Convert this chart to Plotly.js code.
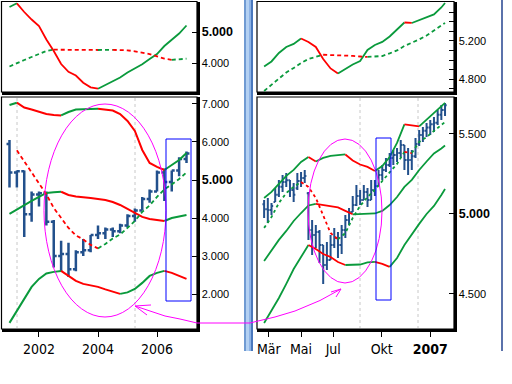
<!DOCTYPE html>
<html><head><meta charset="utf-8">
<script src="https://cdn.plot.ly/plotly-3.0.1.min.js"></script>
<style>html,body{margin:0;padding:0;background:#fff}#chart{width:512px;height:384px}</style>
</head><body><div id="chart"></div>
<script>
// ---------- LEFT PANEL (quarterly) ----------
const leftQuarters = [2001,2001.25,2001.5,2001.75,2002,2002.25,2002.5,2002.75,2003,2003.25,2003.5,2003.75,2004,2004.25,2004.5,2004.75,2005,2005.25,2005.5,2005.75,2006,2006.25,2006.5,2006.75,2007];
const leftOpen  = [5950,5200,5230,4100,4620,4650,3900,3000,3050,2650,3100,3150,3550,3600,3700,3650,3800,4050,4200,4500,4700,5200,4950,5250,5550];
const leftHigh  = [6050,5250,5250,4700,4700,4700,3950,3400,3350,3150,3450,3550,3800,3750,3750,3850,4100,4250,4550,4750,5250,5300,5250,5600,5750];
const leftLow   = [4800,4800,3500,3900,4300,3800,2700,2600,2450,2600,3000,3100,3450,3450,3500,3600,3750,3900,4200,4400,4700,4450,4700,5100,5450];
const leftClose = [5200,5230,4100,4620,4650,3900,3000,3050,2650,3100,3150,3550,3600,3700,3650,3800,4050,4200,4500,4700,5200,4950,5250,5550,5700];
const leftUpper  = [6974,7034,6908,6855,6790,6737,6711,6700,6790,6855,6868,6870,6874,6855,6829,6737,6553,6290,5790,5448,5343,5264,5395,5527,5711];
const leftMiddle = [4107,4225,4343,4448,4554,4659,4680,4690,4606,4567,4554,4528,4501,4475,4422,4343,4238,4133,4028,3975,3948,3922,4001,4040,4080];
const leftLower  = [1240,1556,1898,2187,2398,2542,2582,2608,2476,2345,2266,2227,2187,2121,2069,2003,2042,2134,2292,2476,2555,2608,2555,2476,2398];
const leftTrend  = [null,5780,5488,5201,4909,4620,4265,3988,3739,3541,3436,3292,3200,3317,3462,3567,3739,3923,4160,4330,4554,4751,4883,5027,5198];
const leftTopSolid  = [5806,5926,5645,5403,5194,4758,4387,3968,3716,3597,3364,3216,3171,3290,3403,3532,3694,3829,3961,4129,4290,4548,4742,4952,5210];
const leftTopDashed = [3887,4000,4097,4194,4281,4387,4430,4428,4426,4425,4424,4423,4420,4422,4424,4418,4410,4377,4339,4290,4216,4142,4103,4113,4139];
const leftTickVals = [2002,2004,2006];
const leftTickText = ['2002','2004','2006'];

// ---------- RIGHT PANEL (weekly) ----------
const rightWeeks = ['2006-02-20','2006-02-27','2006-03-06','2006-03-13','2006-03-20','2006-03-27','2006-04-03','2006-04-10','2006-04-17','2006-04-24',
 '2006-05-01','2006-05-08','2006-05-15','2006-05-22','2006-05-29','2006-06-05','2006-06-12','2006-06-19','2006-06-26','2006-07-03',
 '2006-07-10','2006-07-17','2006-07-24','2006-07-31','2006-08-07','2006-08-14','2006-08-21','2006-08-28','2006-09-04','2006-09-11',
 '2006-09-18','2006-09-25','2006-10-02','2006-10-09','2006-10-16','2006-10-23','2006-10-30','2006-11-06','2006-11-13','2006-11-20',
 '2006-11-27','2006-12-04','2006-12-11','2006-12-18','2006-12-25','2007-01-01','2007-01-08','2007-01-15','2007-01-22','2007-01-29'];
const rightOpen  = [5060,5030,5025,5075,5120,5170,5200,5210,5150,5160,5206,5225,5130,4900,4869,4888,4806,4681,4713,4806,4850,4806,4900,4963,5013,5056,5113,5088,5138,5088,5150,5175,5244,5275,5306,5350,5369,5381,5431,5338,5338,5360,5438,5494,5520,5541,5560,5570,5620,5650];
const rightHigh  = [5088,5100,5069,5163,5213,5244,5256,5213,5194,5256,5263,5275,5138,4963,4931,4900,4806,4825,4869,4913,4888,4931,4994,5038,5113,5181,5150,5181,5163,5213,5213,5275,5306,5350,5381,5400,5413,5463,5431,5413,5400,5475,5525,5544,5569,5588,5606,5650,5681,5694];
const rightLow   = [4975,4944,4994,5075,5106,5138,5169,5106,5075,5150,5169,5194,4838,4744,4788,4694,4563,4650,4713,4788,4725,4750,4850,4931,5013,5050,5056,5088,5044,5088,5113,5175,5213,5263,5294,5306,5325,5356,5275,5244,5275,5350,5425,5450,5481,5494,5513,5556,5588,5613];
const rightClose = [5030,5025,5050,5120,5170,5200,5210,5150,5120,5206,5225,5238,4900,4869,4888,4806,4681,4713,4806,4850,4806,4900,4963,5013,5056,5113,5088,5138,5088,5150,5175,5244,5275,5306,5350,5369,5381,5431,5338,5338,5360,5438,5494,5520,5541,5560,5570,5620,5650,5680];
const rightLineDates = ['2006-02-20','2006-03-06','2006-03-20','2006-04-03','2006-04-17','2006-05-01','2006-05-15','2006-05-29','2006-06-12','2006-06-26',
 '2006-07-10','2006-07-24','2006-08-07','2006-08-21','2006-09-04','2006-09-18','2006-10-02','2006-10-16','2006-10-30','2006-11-13',
 '2006-11-27','2006-12-11','2006-12-25','2007-01-08','2007-01-22','2007-01-29'];
const rightUpper  = [5100,5138,5188,5238,5275,5325,5356,5328,5350,5363,5369,5372,5334,5309,5294,5269,5300,5356,5444,5560,5552,5547,5588,5631,5675,5694];
const rightMiddle = [4706,4775,4838,4894,4956,5006,5053,5063,5056,5050,5041,5019,4998,5000,5001,5003,5019,5056,5106,5169,5213,5275,5328,5378,5409,5428];
const rightLower  = [4319,4394,4475,4563,4656,4731,4806,4781,4750,4731,4700,4681,4683,4684,4697,4700,4688,4669,4725,4806,4875,4938,5000,5050,5119,5156];
const rightTrend  = [4913,4981,5069,5131,5169,5200,5169,5100,4988,4881,4841,4881,4975,5050,5106,5150,5206,5259,5313,5388,5381,5450,5481,5519,5556,5575];
const rightTopSolid  = [4934,4986,5075,5137,5169,5226,5190,5137,5012,4913,4861,4908,4955,4991,5106,5158,5190,5247,5315,5393,5388,5419,5445,5477,5550,5597];
const rightTopDashed = [4678,4741,4814,4871,4918,4970,5012,5038,5056,5054,5052,5048,5044,5038,5033,5035,5043,5070,5101,5148,5179,5216,5257,5310,5357,5388];
const rightTickVals = ['2006-03-01','2006-05-01','2006-07-01','2006-10-01','2007-01-01'];
const rightTickText = ['Mär','Mai','Jul','Okt','<b>2007</b>'];

// ---------- STYLE ----------
const GREEN = '#0a9a3c', RED = '#ff0000', BAR = '#22508c', MAG = '#ff00ff';
const W = 512, H = 384;
const px = v => v / W, py = v => 1 - v / H;
const BOLD = t => '<span style="font-size:12.5px"><b>' + t + '</b></span>';

function colorSegments(x, y, xa, ya, width, dash) {
  const runs = []; let run = null;
  for (let i = 0; i < y.length - 1; i++) {
    if (y[i] == null || y[i + 1] == null) { run = null; continue; }
    const c = y[i + 1] >= y[i] ? GREEN : RED;
    if (run && run.c === c) { run.x.push(x[i + 1]); run.y.push(y[i + 1]); }
    else { run = { c, x: [x[i], x[i + 1]], y: [y[i], y[i + 1]] }; runs.push(run); }
  }
  return runs.map(r => ({ type: 'scatter', mode: 'lines', x: r.x, y: r.y, xaxis: xa, yaxis: ya,
    line: { color: r.c, width: width, dash: dash || 'solid' }, hoverinfo: 'skip', showlegend: false }));
}

const traces = [].concat(
  colorSegments(leftQuarters, leftTopSolid, 'x', 'y', 1.8),
  colorSegments(leftQuarters, leftTopDashed, 'x', 'y', 1.8, '4px,3px'),
  colorSegments(leftQuarters, leftUpper, 'x2', 'y2', 2),
  colorSegments(leftQuarters, leftMiddle, 'x2', 'y2', 2),
  colorSegments(leftQuarters, leftLower, 'x2', 'y2', 2),
  colorSegments(leftQuarters, leftTrend, 'x2', 'y2', 1.8, '4px,3px'),
  colorSegments(rightLineDates, rightTopSolid, 'x3', 'y3', 1.8),
  colorSegments(rightLineDates, rightTopDashed, 'x3', 'y3', 1.8, '4px,3px'),
  colorSegments(rightLineDates, rightUpper, 'x4', 'y4', 1.8),
  colorSegments(rightLineDates, rightMiddle, 'x4', 'y4', 1.8),
  colorSegments(rightLineDates, rightLower, 'x4', 'y4', 1.8),
  colorSegments(rightLineDates, rightTrend, 'x4', 'y4', 1.8, '3px,3px'),
  [{ type: 'ohlc', x: leftQuarters, open: leftOpen, high: leftHigh, low: leftLow, close: leftClose,
     xaxis: 'x2', yaxis: 'y2', tickwidth: 0.4, hoverinfo: 'skip', showlegend: false,
     increasing: { line: { color: BAR, width: 2.5 } }, decreasing: { line: { color: BAR, width: 2.5 } } },
   { type: 'ohlc', x: rightWeeks, open: rightOpen, high: rightHigh, low: rightLow, close: rightClose,
     xaxis: 'x4', yaxis: 'y4', tickwidth: 0.45, hoverinfo: 'skip', showlegend: false,
     increasing: { line: { color: BAR, width: 2 } }, decreasing: { line: { color: BAR, width: 2 } } }]
);

const yFont = { family: 'Liberation Sans, Arial, sans-serif', size: 11, color: '#000' };
const xFont = { family: 'Liberation Sans Narrow, DejaVu Sans Condensed, Arial Narrow, sans-serif', size: 14, color: '#000' };
const baseY = { side: 'right', showgrid: false, zeroline: false, showline: true, linewidth: 2.5, linecolor: '#000',
  ticks: 'inside', ticklen: 5, tickwidth: 1, tickcolor: '#000', tickfont: yFont, fixedrange: true };
const baseX = { showgrid: false, zeroline: false, showline: true, linewidth: 3, linecolor: '#000', fixedrange: true };

const LX = [px(2), px(197)], RX = [px(257), px(454)];
const TY = [py(92), py(2)], MY = [py(329), py(97)];

function rectPx(x0, y0, x1, y1, color, width, fill, layer) {
  return { type: 'rect', xref: 'paper', yref: 'paper', x0: px(x0), x1: px(x1), y0: py(y1), y1: py(y0),
    line: { color: color, width: width }, fillcolor: fill || 'rgba(0,0,0,0)', layer: layer || 'above' };
}
function linePx(x0, y0, x1, y1, color, width, dash, layer) {
  return { type: 'line', xref: 'paper', yref: 'paper', x0: px(x0), y0: py(y0), x1: px(x1), y1: py(y1),
    line: { color: color, width: width, dash: dash || 'solid' }, layer: layer || 'above' };
}
function pathPx(pts, color, width) {
  const d = pts.map((p, i) => (i ? 'L' : 'M') + px(p[0]).toFixed(5) + ',' + py(p[1]).toFixed(5)).join(' ');
  return { type: 'path', xref: 'paper', yref: 'paper', path: d, line: { color: color, width: width } };
}
function ellipsePx(cx, cy, rx, ry, color, width) {
  return { type: 'circle', xref: 'paper', yref: 'paper', x0: px(cx - rx), x1: px(cx + rx), y0: py(cy + ry), y1: py(cy - ry),
    line: { color: color, width: width } };
}

const shapes = [
  rectPx(1.5, 1.5, 197, 92, '#000', 1.2, null, 'below'),
  rectPx(1.5, 97, 197, 329, '#000', 1.2, null, 'below'),
  rectPx(257, 1.5, 454, 92, '#000', 1.2, null, 'below'),
  rectPx(257, 97, 454, 329, '#000', 1.2, null, 'below'),
  linePx(17, 98, 17, 328, '#c8c8c8', 1, '3px,3px', 'below'),
  linePx(135, 98, 135, 328, '#c8c8c8', 1, '3px,3px', 'below'),
  linePx(360, 98, 360, 328, '#c8c8c8', 1, '3px,3px', 'below'),
  linePx(418, 98, 418, 328, '#c8c8c8', 1, '3px,3px', 'below'),
  rectPx(244, 0, 246, 351, 'rgba(0,0,0,0)', 0, '#6f9ad2'),
  rectPx(246, 0, 249, 351, 'rgba(0,0,0,0)', 0, '#b3d0f2'),
  rectPx(249, 0, 251, 351, 'rgba(0,0,0,0)', 0, '#8db3e6'),
  rectPx(251, 0, 253, 351, 'rgba(0,0,0,0)', 0, '#4a78bd'),
  linePx(502, 0, 502, 351, '#24438f', 1.5),
  ellipsePx(105, 210.5, 61, 106.5, MAG, 1),
  ellipsePx(345, 211, 37, 72, MAG, 1),
  rectPx(166, 139, 191, 301, '#0000ff', 1),
  rectPx(376, 138, 391, 300, '#0000ff', 1),
  pathPx([[135,306],[150,311],[165,316],[180,319],[197,323],[220,323],[250,323],[256,321.5],[275,317],[295,311],[320,300.5],[341,289]], MAG, 1),
  pathPx([[151,305],[135,306],[147,315]], MAG, 1),
  pathPx([[331,292],[341,289],[336,297]], MAG, 1)
];

const layout = {
  width: W, height: H, margin: { l: 0, r: 0, t: 0, b: 0 }, paper_bgcolor: '#fff', plot_bgcolor: '#fff',
  showlegend: false, hovermode: false, font: yFont,
  xaxis: Object.assign({}, baseX, { domain: LX, range: [2000.746, 2007.356], anchor: 'y', showticklabels: false, ticks: '' }),
  yaxis: Object.assign({}, baseY, { domain: TY, range: [3065, 5968], anchor: 'x', tickvals: [4000, 5000], ticktext: ['4.000', BOLD('5.000')] }),
  xaxis2: Object.assign({}, baseX, { domain: LX, range: [2000.746, 2007.356], anchor: 'y2', tickvals: leftTickVals, ticktext: leftTickText,
    ticks: 'outside', ticklen: 5, tickcolor: '#000', tickfont: xFont, rangeslider: { visible: false } }),
  yaxis2: Object.assign({}, baseY, { domain: MY, range: [1079, 7184], anchor: 'x2', tickvals: [2000, 3000, 4000, 5000, 6000, 7000],
    ticktext: ['2.000', '3.000', '4.000', BOLD('5.000'), '6.000', '7.000'] }),
  xaxis3: Object.assign({}, baseX, { domain: RX, type: 'date', range: ['2006-02-06 12:00', '2007-02-15'], anchor: 'y3', showticklabels: false, ticks: '' }),
  yaxis3: Object.assign({}, baseY, { domain: TY, range: [4667, 5607], anchor: 'x3', tickvals: [4700, 4800, 4900, 5000, 5100, 5200, 5300, 5400, 5500, 5600],
    ticktext: ['', '4.800', '', '', '', '5.200', '', '', '', ''] }),
  xaxis4: Object.assign({}, baseX, { domain: RX, type: 'date', range: ['2006-02-06 12:00', '2007-02-15'], anchor: 'y4', tickvals: rightTickVals, ticktext: rightTickText,
    ticks: 'outside', ticklen: 5, tickcolor: '#000', tickfont: xFont, rangeslider: { visible: false } }),
  yaxis4: Object.assign({}, baseY, { domain: MY, range: [4281, 5731], anchor: 'x4', tickvals: [4500, 5000, 5500], ticktext: ['4.500', BOLD('5.000'), '5.500'] }),
  shapes: shapes
};

Plotly.newPlot('chart', traces, layout, { staticPlot: true, displayModeBar: false });
</script></body></html>
